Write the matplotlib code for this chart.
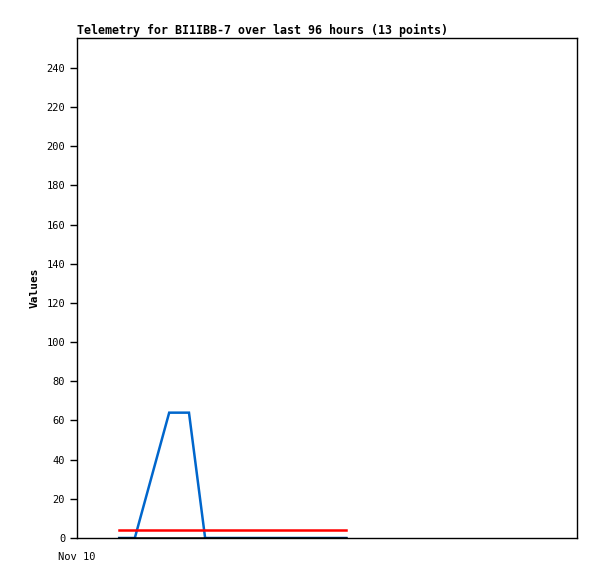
import matplotlib
matplotlib.use("Agg")
import matplotlib.pyplot as plt

# times in hours since Nov 10 00:00
times = [8.1, 11.1, 17.7, 21.5, 24.6, 28.0, 32.0, 36.0, 40.0, 44.0, 48.0, 50.0, 51.7]
blue_vals = [0, 0, 64, 64, 0, 0, 0, 0, 0, 0, 0, 0, 0]
red_vals = [4] * 13
black_vals = [0] * 13
yticks = [0, 20, 40, 60, 80, 100, 120, 140, 160, 180, 200, 220, 240]
xtick_pos = [0]
xtick_labels = ["Nov 10"]

fig = plt.figure(figsize=(5.97, 5.79), dpi=100)
ax = fig.add_axes([77/597, 1 - 538/579, 500/597, 500/579])
ax.plot(times, blue_vals, color="#0066cc", lw=1.8, solid_joinstyle="miter")
ax.plot(times, red_vals, color="#ff0000", lw=1.8)
ax.plot(times, black_vals, color="#000000", lw=1.8)
ax.set_xlim(0, 96)
ax.set_ylim(0, 255.3)
ax.set_yticks(yticks)
ax.set_yticklabels([str(v) for v in yticks], fontfamily="DejaVu Sans Mono", fontsize=7.5)
ax.set_xticks(xtick_pos)
ax.set_xticklabels(xtick_labels, fontfamily="DejaVu Sans Mono", fontsize=7.5)
ax.tick_params(axis="y", length=5, width=1, direction="out")
ax.tick_params(axis="x", length=0, pad=10)
for s in ax.spines.values():
    s.set_linewidth(1)
ax.set_ylabel("Values", fontfamily="DejaVu Sans Mono", fontweight="bold", fontsize=8, labelpad=5)
ax.set_title("Telemetry for BI1IBB-7 over last 96 hours (13 points)", loc="left",
             fontfamily="DejaVu Sans Mono", fontweight="bold", fontsize=8.35, pad=3)
fig.savefig("out.png", dpi=100)
